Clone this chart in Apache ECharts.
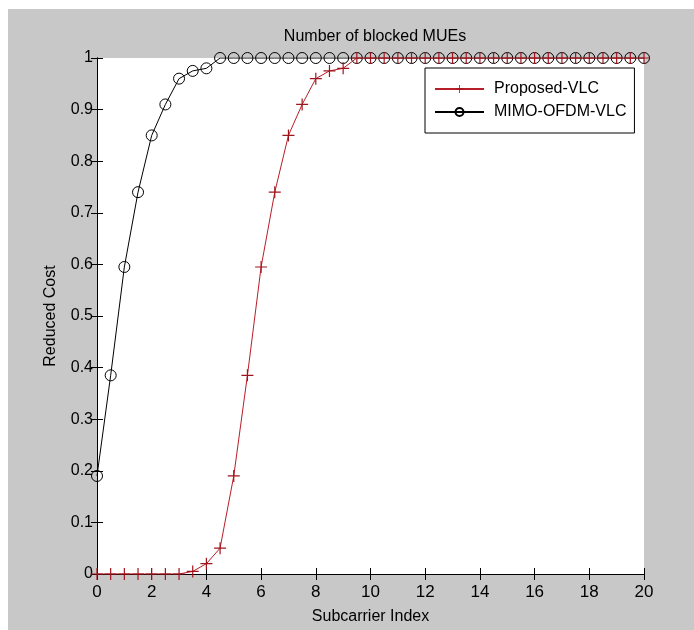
<!DOCTYPE html>
<html>
<head>
<meta charset="utf-8">
<script src="https://cdn.jsdelivr.net/npm/echarts@6/dist/echarts.min.js"></script>
<style>
  html, body { margin: 0; padding: 0; background: #fff; }
  #main { position: absolute; left: 8px; top: 9px; width: 686px; height: 621px; }
</style>
</head>
<body>
<div id="main"></div>
<script>
// subcarrier index (x) values
var subcarrier = [0, 0.5, 1, 1.5, 2, 2.5, 3, 3.5, 4, 4.5, 5, 5.5, 6, 6.5, 7, 7.5, 8, 8.5, 9, 9.5,
  10, 10.5, 11, 11.5, 12, 12.5, 13, 13.5, 14, 14.5, 15, 15.5, 16, 16.5, 17, 17.5, 18, 18.5, 19, 19.5, 20]
var proposedVlc = [0, 0, 0, 0, 0, 0, 0, 0.005, 0.02, 0.05, 0.19, 0.385, 0.595, 0.74, 0.85, 0.91, 0.96, 0.975, 0.98, 1,
  1, 1, 1, 1, 1, 1, 1, 1, 1, 1, 1, 1, 1, 1, 1, 1, 1, 1, 1, 1, 1]
var mimoOfdmVlc = [0.19, 0.385, 0.595, 0.74, 0.85, 0.91, 0.96, 0.975, 0.98, 1, 1, 1, 1, 1, 1, 1, 1, 1, 1, 1,
  1, 1, 1, 1, 1, 1, 1, 1, 1, 1, 1, 1, 1, 1, 1, 1, 1, 1, 1, 1, 1]
var xTicks = { min: 0, max: 20, interval: 2 }
var yTicks = { min: 0, max: 1, interval: 0.1 }

function pairs (ys) {
  return subcarrier.map(function (x, i) { return [x, ys[i]] })
}

var plus = 'path://M4.5,0 H5.5 V4.5 H10 V5.5 H5.5 V10 H4.5 V5.5 H0 V4.5 H4.5 Z'
var font = 'Liberation Sans, Arial, sans-serif'
var axisLine = { show: true, lineStyle: { color: '#000', width: 1 } }

var myChart = echarts.init(document.getElementById('main'))
var option = {
  backgroundColor: '#c8c8c8',
  animation: false,
  title: {
    text: 'Number of blocked MUEs',
    left: 362,
    top: 15,
    textAlign: 'center',
    textStyle: { fontFamily: font, fontSize: 16, fontWeight: 'normal', color: '#000' }
  },
  legend: {
    orient: 'vertical',
    left: 417,
    top: 59,
    padding: [13, 8, 13, 9],
    itemGap: 7,
    itemWidth: 49,
    itemHeight: 10,
    backgroundColor: '#fff',
    borderColor: '#000',
    borderWidth: 1,
    borderRadius: 0,
    textStyle: { fontFamily: font, fontSize: 16, color: '#000', padding: [0, 0, 0, 5] },
    data: ['Proposed-VLC', 'MIMO-OFDM-VLC']
  },
  grid: {
    left: 89,
    right: 50,
    top: 49,
    bottom: 51,
    show: true,
    backgroundColor: '#fff',
    borderWidth: 0
  },
  xAxis: [
    {
      type: 'value',
      min: xTicks.min,
      max: xTicks.max,
      interval: xTicks.interval,
      name: 'Subcarrier Index',
      nameLocation: 'middle',
      nameGap: 35,
      nameTextStyle: { fontFamily: font, fontSize: 16, color: '#000' },
      axisLine: axisLine,
      axisTick: { inside: true, length: 6, lineStyle: { color: '#000' } },
      axisLabel: { fontFamily: font, fontSize: 17, color: '#000', margin: 10 },
      splitLine: { show: false }
    },
    {
      type: 'value',
      position: 'top',
      min: xTicks.min,
      max: xTicks.max,
      interval: xTicks.interval,
      axisLine: axisLine,
      axisTick: { inside: true, length: 6, lineStyle: { color: '#000' } },
      axisLabel: { show: false },
      splitLine: { show: false }
    }
  ],
  yAxis: [
    {
      type: 'value',
      min: yTicks.min,
      max: yTicks.max,
      interval: yTicks.interval,
      name: 'Reduced Cost',
      nameLocation: 'middle',
      nameGap: 38,
      nameTextStyle: { fontFamily: font, fontSize: 16, color: '#000' },
      axisLine: axisLine,
      axisTick: { inside: true, length: 6, lineStyle: { color: '#000' } },
      axisLabel: { fontFamily: font, fontSize: 16, color: '#000', margin: 4 },
      splitLine: { show: false }
    },
    {
      type: 'value',
      position: 'right',
      min: yTicks.min,
      max: yTicks.max,
      interval: yTicks.interval,
      axisLine: axisLine,
      axisTick: { inside: true, length: 6, lineStyle: { color: '#000' } },
      axisLabel: { show: false },
      splitLine: { show: false }
    }
  ],
  series: [
    {
      name: 'Proposed-VLC',
      type: 'line',
      data: pairs(proposedVlc),
      symbol: plus,
      symbolSize: 12,
      showAllSymbol: true,
      lineStyle: { color: '#b81e28', width: 1 },
      itemStyle: { color: '#a0141e' },
      z: 3
    },
    {
      name: 'MIMO-OFDM-VLC',
      type: 'line',
      data: pairs(mimoOfdmVlc),
      symbol: 'circle',
      symbolSize: 11,
      showAllSymbol: true,
      lineStyle: { color: '#000', width: 1 },
      itemStyle: { color: 'rgba(0,0,0,0)', borderColor: '#000', borderWidth: 1 },
      z: 2
    }
  ]
}
myChart.setOption(option)
</script>
</body>
</html>
